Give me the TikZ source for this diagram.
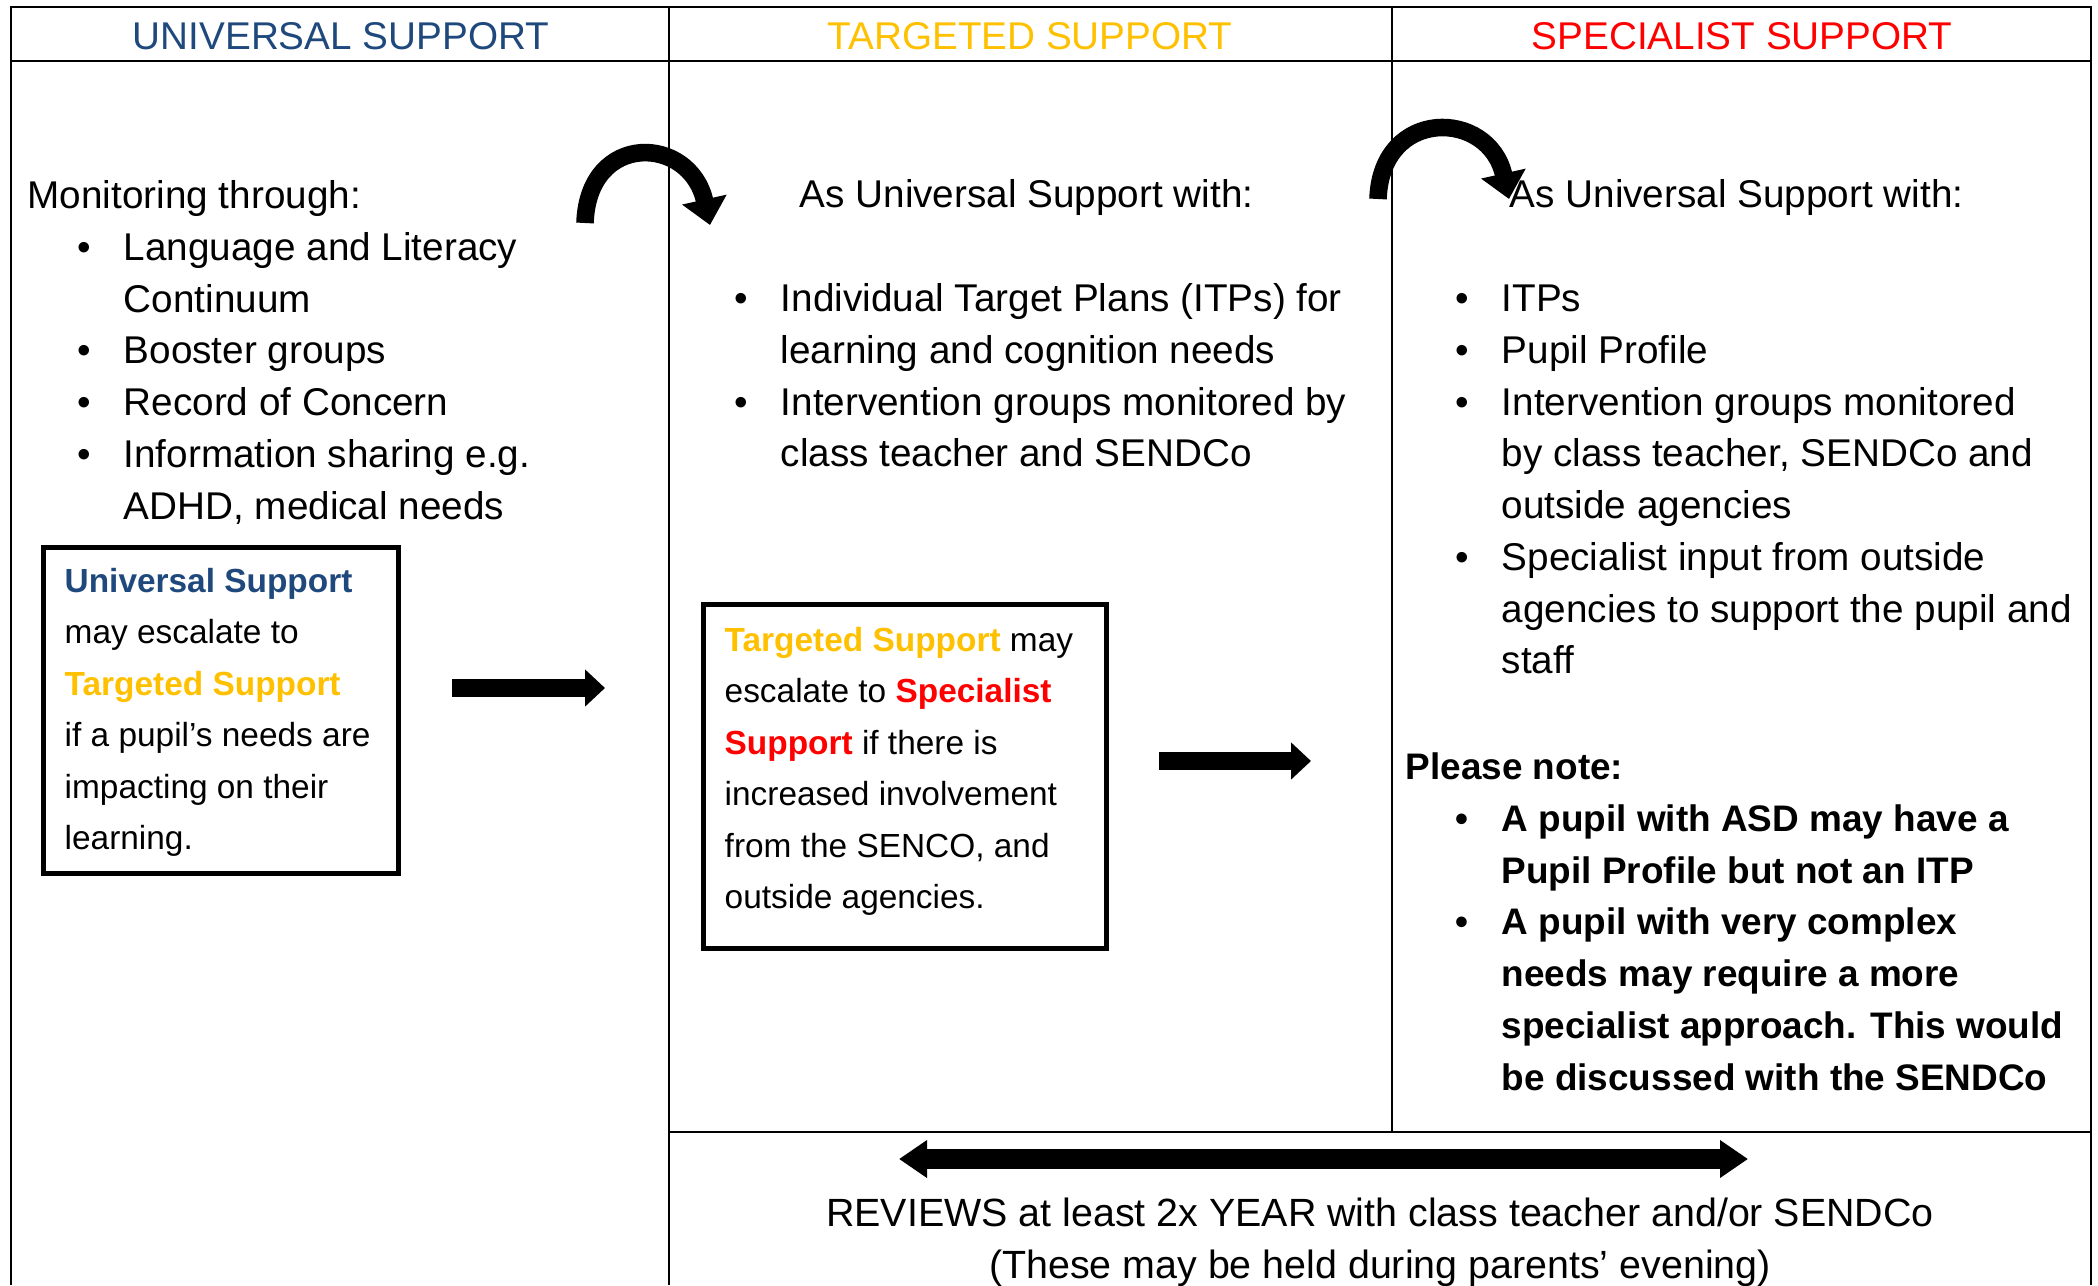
\documentclass[tikz,border=0pt]{standalone}
\usepackage{fontspec}
\setmainfont{Liberation Sans}
\usetikzlibrary{arrows.meta}
\definecolor{univblue}{RGB}{31,73,125}
\definecolor{targgold}{RGB}{255,192,0}
\definecolor{specred}{RGB}{255,0,0}
\newcommand{\bul}{\hspace*{0.5cm}\makebox[0.46cm][l]{\textbullet}}
\newcommand{\bulcont}{\hspace*{0.96cm}}
\begin{document}
\begin{tikzpicture}[x=0.01cm,y=-0.01cm,
  grid/.style={line width=0.6pt},
  head/.style={font=\fontsize{11}{13}\selectfont, inner sep=0pt},
  body/.style={font=\fontsize{11}{14.7}\selectfont, align=left, inner sep=0pt, anchor=north west},
  boxtext/.style={font=\fontsize{9.5}{14.6}\selectfont, align=left, inner sep=0pt, anchor=north west},
  escbox/.style={draw, line width=1.4pt, inner sep=0pt, anchor=north west},
  fatarrow/.style={line width=0.18cm, -{Triangle[width=0.36cm,length=0.2cm]}},
  bendarrow/.style={line width=5pt, -{Triangle[width=0.44cm,length=0.26cm]}}]
\useasboundingbox (0,0) rectangle (2098,1285);

% table
\draw [grid] (11,1285) -- (11,7) -- (2091,7) -- (2091,1285);
\draw [grid] (11,61) -- (2091,61);
\draw [grid] (669,7) -- (669,1285);
\draw [grid] (1392,7) -- (1392,1132);
\draw [grid] (669,1132) -- (2091,1132);

% headers
\node [head, text=univblue] (univhead) at (341,36) {UNIVERSAL SUPPORT};
\node [head, text=targgold] (targhead) at (1030,36) {TARGETED SUPPORT};
\node [head, text=specred] (spechead) at (1742,36) {SPECIALIST SUPPORT};

% universal
\node [body] (univlist) at (27,172) {\strut Monitoring through:\\
  \bul Language and Literacy\\ \bulcont Continuum\\
  \bul Booster groups\\
  \bul Record of Concern\\
  \bul Information sharing e.g.\\ \bulcont ADHD, medical needs};
\node [escbox, minimum width=3.55cm, minimum height=3.26cm] (univbox) at (41,545) {};
\node [boxtext] (univboxtxt) at (64,556) {\strut{\bfseries\color{univblue}Universal Support}\\
  may escalate to\\ {\bfseries\color{targgold}Targeted Support}\\
  if a pupil’s needs are\\ impacting on their\\ learning.};

% targeted
\node [body, anchor=base west] (targintro) at (799,208) {As Universal Support with:};
\node [body] (targlist) at (684,275) {\strut\bul Individual Target Plans (ITPs) for\\ \bulcont learning and cognition needs\\
  \bul Intervention groups monitored by\\ \bulcont class teacher and SENDCo};
\node [escbox, minimum width=4.03cm, minimum height=3.44cm] (targbox) at (701,602) {};
\node [boxtext] (targboxtxt) at (724,615) {\strut{\bfseries\color{targgold}Targeted Support} may\\
  escalate to {\bfseries\color{specred}Specialist}\\ {\bfseries\color{specred}Support} if there is\\
  increased involvement\\ from the SENCO, and\\ outside agencies.};

% specialist
\node [body, anchor=base west] (specintro) at (1509,208) {As Universal Support with:};
\node [body] (speclist) at (1405,275) {\strut\bul ITPs\\
  \bul Pupil Profile\\
  \bul Intervention groups monitored\\ \bulcont by class teacher, SENDCo and\\ \bulcont outside agencies\\
  \bul Specialist input from outside\\ \bulcont agencies to support the pupil and\\ \bulcont staff};
\node [body, font=\fontsize{10.5}{14.7}\selectfont\bfseries] (specnote) at (1405,743) {\strut Please note:\\
  \bul A pupil with ASD may have a\\ \bulcont Pupil Profile but not an ITP\\
  \bul A pupil with very complex\\ \bulcont needs may require a more\\
  \bulcont specialist approach. This would\\ \bulcont be discussed with the SENDCo};

% reviews
\node [body, font=\fontsize{11.2}{14.7}\selectfont, anchor=north, align=center] (reviews) at (1380,1190) {\strut REVIEWS at least 2x YEAR with class teacher and/or SENDCo\\
  (These may be held during parents’ evening)};

% arrows
\coordinate (bendA) at (585,223);
\coordinate (bendB) at (1378,199);
\draw [bendarrow] (bendA) .. controls +(3,-92) and +(-20,-90) .. +(125,2);
\draw [bendarrow] (bendB) .. controls +(3,-92) and +(-20,-90) .. +(131,0);
\draw [fatarrow] (452,688) -- (605,688);
\draw [fatarrow] (1159,761) -- (1311,761);
\draw [line width=0.2cm, {Triangle[width=0.36cm,length=0.28cm]}-{Triangle[width=0.36cm,length=0.28cm]}] (899,1159) -- (1748,1159);
\end{tikzpicture}
\end{document}
